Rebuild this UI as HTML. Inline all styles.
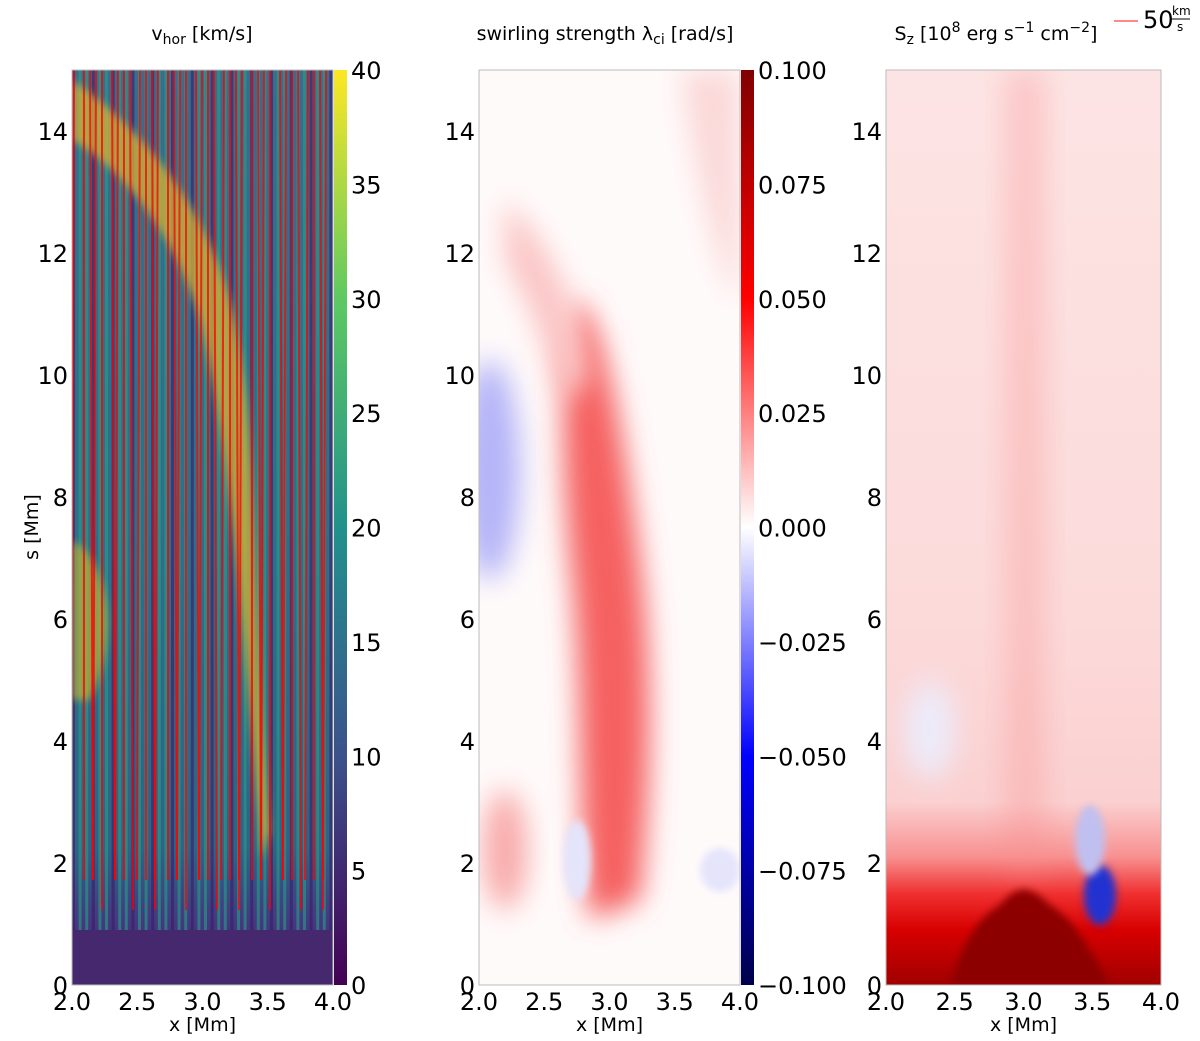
<!DOCTYPE html>
<html><head><meta charset="utf-8"><style>
body{margin:0;background:#fff;width:1200px;height:1036px;overflow:hidden}
svg text{font-family:"DejaVu Sans","Liberation Sans",sans-serif;fill:#000}
</style></head><body>
<svg id="fig" width="1200" height="1036" xmlns="http://www.w3.org/2000/svg">
<defs>
<linearGradient id="vir" x1="0" y1="1" x2="0" y2="0">
<stop offset="0" stop-color="#440154"/><stop offset="0.25" stop-color="#3b528b"/><stop offset="0.5" stop-color="#21918c"/><stop offset="0.75" stop-color="#5ec962"/><stop offset="1" stop-color="#fde725"/></linearGradient>
<linearGradient id="seis" x1="0" y1="1" x2="0" y2="0">
<stop offset="0" stop-color="#00004c"/><stop offset="0.25" stop-color="#0000ff"/><stop offset="0.5" stop-color="#ffffff"/><stop offset="0.75" stop-color="#ff0000"/><stop offset="1" stop-color="#800000"/></linearGradient>
<linearGradient id="leftbg" x1="0" y1="0" x2="0" y2="1">
<stop offset="0" stop-color="#3a6c8c"/><stop offset="0.5" stop-color="#2f6f8a"/><stop offset="0.85" stop-color="#2e6486"/><stop offset="0.93" stop-color="#44397f"/><stop offset="1" stop-color="#45206e"/></linearGradient>
<linearGradient id="rightbg" x1="0" y1="0" x2="0" y2="1">
<stop offset="0" stop-color="#fde4e4"/><stop offset="0.6" stop-color="#fcdada"/><stop offset="0.8" stop-color="#fbd0d0"/><stop offset="0.86" stop-color="#f89090"/><stop offset="0.9" stop-color="#f03030"/><stop offset="0.94" stop-color="#d80000"/><stop offset="1" stop-color="#a00000"/></linearGradient>
<filter id="bl" x="-50%" y="-50%" width="200%" height="200%"><feGaussianBlur stdDeviation="14"/></filter>
<filter id="bl2" x="-50%" y="-50%" width="200%" height="200%"><feGaussianBlur stdDeviation="4"/></filter>
<clipPath id="c1"><rect x="72" y="70" width="261" height="915"/></clipPath>
<clipPath id="c2"><rect x="479" y="70" width="261" height="915"/></clipPath>
<clipPath id="c3"><rect x="886" y="70" width="275" height="915"/></clipPath>
</defs>
<g id="p1"></g>
<g id="p2"></g>
<g id="p3"></g>
</svg>
<script>
const xTicks=[2.0,2.5,3.0,3.5,4.0];
const yTicks=[0,2,4,6,8,10,12,14];
const cb1Ticks=[0,5,10,15,20,25,30,35,40];
const cb2Ticks=[-0.100,-0.075,-0.050,-0.025,0.000,0.025,0.050,0.075,0.100];
const panels=[{id:'p1',x0:72,w:261},{id:'p2',x0:479,w:261},{id:'p3',x0:886,w:275}];
const Y0=70,Y1=985;
const NS='http://www.w3.org/2000/svg';
function el(p,t,a,txt){const e=document.createElementNS(NS,t);for(const k in a)e.setAttribute(k,a[k]);if(txt!==undefined)e.textContent=txt;p.appendChild(e);return e;}
function ys(v){return Y1-(v/15)*(Y1-Y0);}
// panel 1 image
const g1=document.getElementById('p1');
const im1=el(g1,'g',{'clip-path':'url(#c1)'});


el(im1,'rect',{x:72,y:70,width:261,height:915,fill:'url(#leftbg)'});
for(let i=0;i<40;i++){const x=72+i*6.6;el(im1,'rect',{x:x,y:70,width:3,height:860,fill:(i%3==0)?'#3a1a6a':'#25a085',opacity:0.6});}
el(im1,'path',{d:'M72,80 C130,120 200,190 230,300 C260,420 250,560 270,830 L262,860 C240,600 230,450 200,320 C170,220 110,160 72,140Z',fill:'#d8b030',opacity:0.75,filter:'url(#bl2)'});
el(im1,'path',{d:'M72,540 C110,560 120,640 90,700 L72,700Z',fill:'#c0b030',opacity:0.7,filter:'url(#bl2)'});
el(im1,'rect',{x:72,y:930,width:261,height:55,fill:'#46286e'});
for(let i=0;i<38;i++){const x=74+i*7+((i*7)%4);el(im1,'line',{x1:x,y1:70,x2:x+((i%3)-1)*3,y2:(i%4==0)?910:880,stroke:'#ff0000','stroke-width':2,opacity:0.75});}
// panel 2 image
const g2=document.getElementById('p2');
const im2=el(g2,'g',{'clip-path':'url(#c2)'});


el(im2,'rect',{x:479,y:70,width:261,height:915,fill:'#fffafa'});
el(im2,'path',{d:'M575,300 C600,310 620,400 640,560 C655,680 650,800 640,900 L590,920 C575,820 585,700 570,560 C560,450 560,350 575,300Z',fill:'#f56060',filter:'url(#bl)'});
el(im2,'path',{d:'M505,200 C540,230 580,300 590,380 L560,400 C540,320 515,280 505,260Z',fill:'#fbc4c4',filter:'url(#bl)'});
el(im2,'ellipse',{cx:490,cy:470,rx:30,ry:110,fill:'#b4b4f8',filter:'url(#bl)'});
el(im2,'ellipse',{cx:505,cy:850,rx:22,ry:60,fill:'#f8a8a8',filter:'url(#bl)'});
el(im2,'path',{d:'M680,70 L740,70 L740,300 C720,280 700,200 680,70Z',fill:'#fbd8d8',filter:'url(#bl)'});
el(im2,'ellipse',{cx:720,cy:870,rx:20,ry:22,fill:'#e4e4fb',filter:'url(#bl2)'});
el(im2,'ellipse',{cx:577,cy:860,rx:14,ry:40,fill:'#e4e4fb',filter:'url(#bl2)'});
// panel 3 image
const g3=document.getElementById('p3');
const im3=el(g3,'g',{'clip-path':'url(#c3)'});


el(im3,'rect',{x:886,y:70,width:275,height:915,fill:'url(#rightbg)'});
el(im3,'rect',{x:1005,y:70,width:40,height:800,fill:'#f89090',opacity:0.35,filter:'url(#bl)'});
el(im3,'path',{d:'M950,985 C960,950 975,920 1000,905 C1020,880 1035,890 1050,905 C1075,920 1090,950 1110,985Z',fill:'#8c0000',filter:'url(#bl2)'});
el(im3,'ellipse',{cx:1100,cy:895,rx:16,ry:30,fill:'#2030d0',filter:'url(#bl2)'});
el(im3,'ellipse',{cx:1090,cy:840,rx:15,ry:35,fill:'#c0c0f0',filter:'url(#bl2)'});
el(im3,'ellipse',{cx:930,cy:730,rx:25,ry:50,fill:'#ececfb',filter:'url(#bl)'});
// axes
panels.forEach((p,i)=>{
 const g=document.getElementById(p.id);
 const fr=el(g,'rect',{x:p.x0,y:Y0,width:p.w,height:Y1-Y0,fill:'none',stroke:'#bbb','stroke-width':1});
 
 
 const xs=v=>p.x0+(v-2)/2*p.w;
 xTicks.forEach(v=>{const t=el(g,'text',{x:xs(v),y:1010,'font-size':24,'text-anchor':'middle'},v.toFixed(1));
  
  });
 yTicks.forEach(v=>{const t=el(g,'text',{x:p.x0-4,y:ys(v)+9,'font-size':24,'text-anchor':'end'},String(v));
  
  });
 const xl=el(g,'text',{x:p.x0+p.w/2,y:1031,'font-size':19,'text-anchor':'middle'},'x [Mm]');
 
 
});
// colorbars
function cbar(g,x,fill,ticks,fmt,name){
 const r=el(g,'rect',{x:x,y:Y0,width:13,height:Y1-Y0,fill:fill});
 
 
 const n=ticks.length-1;
 ticks.forEach((v,i)=>{const y=Y1-i/n*(Y1-Y0);
  const t=el(g,'text',{x:x+17,y:y+9,'font-size':24},fmt(v));
  
  });
}
cbar(g1,334,'url(#vir)',cb1Ticks,v=>String(v),'vhor-colorbar');
cbar(g2,741,'url(#seis)',cb2Ticks,v=>(v<0?'\u2212':'')+Math.abs(v).toFixed(3),'swirl-colorbar');
const yl=el(g1,'text',{x:38,y:527,'font-size':19,'text-anchor':'middle',transform:'rotate(-90 38 527)'},'s [Mm]');


</script>
<svg style="position:absolute;left:0;top:0" width="1200" height="60">
<text x="202" y="40" font-size="19" text-anchor="middle" font-family="DejaVu Sans,sans-serif">v<tspan font-size="14" dy="4">hor</tspan><tspan dy="-4"> [km/s]</tspan></text>
<text x="605" y="40" font-size="19" text-anchor="middle" font-family="DejaVu Sans,sans-serif">swirling strength λ<tspan font-size="14" dy="4">ci</tspan><tspan dy="-4"> [rad/s]</tspan></text>
<text x="996" y="40" font-size="19" text-anchor="middle" font-family="DejaVu Sans,sans-serif">S<tspan font-size="14" dy="4">z</tspan><tspan dy="-4"> [10</tspan><tspan font-size="14" dy="-8">8</tspan><tspan dy="8"> erg s</tspan><tspan font-size="14" dy="-8">−1</tspan><tspan dy="8"> cm</tspan><tspan font-size="14" dy="-8">−2</tspan><tspan dy="8">]</tspan></text>
<line x1="1114" y1="21" x2="1138" y2="21" stroke="#f88" stroke-width="2"/>
<text x="1143" y="28" font-size="24" font-family="DejaVu Sans,sans-serif">50</text>
<text x="1172" y="15" font-size="12" font-family="DejaVu Sans,sans-serif">km</text>
<line x1="1172" y1="19" x2="1190" y2="19" stroke="#000" stroke-width="1"/>
<text x="1177" y="31" font-size="12" font-family="DejaVu Sans,sans-serif">s</text>
</svg>
</body></html>
